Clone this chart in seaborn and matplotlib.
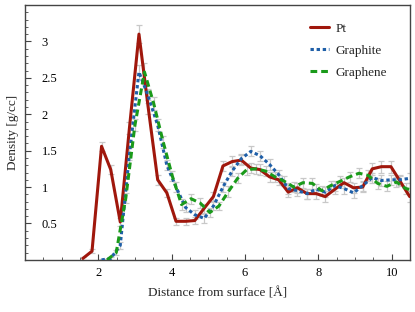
import numpy as np
import pandas as pd
import seaborn as sns
import matplotlib.pyplot as plt
from matplotlib.ticker import MultipleLocator

sns.set_style("ticks")
plt.rcParams["font.family"] = ["Liberation Serif", "DejaVu Serif"]

# density profiles, distance in Angstrom
pt_x = [1.58, 1.83, 2.09, 2.34, 2.60, 2.85, 3.11, 3.36, 3.62, 3.87, 4.12, 4.38,
        4.63, 4.89, 5.14, 5.40, 5.65, 5.90, 6.16, 6.41, 6.67, 6.92, 7.18, 7.43,
        7.69, 7.94, 8.19, 8.45, 8.70, 8.96, 9.21, 9.47, 9.72, 9.98, 10.23, 10.49]
pt_y = [0.02, 0.12, 1.56, 1.24, 0.52, 1.81, 3.10, 2.10, 1.10, 0.92, 0.53, 0.53,
        0.54, 0.71, 0.87, 1.29, 1.35, 1.37, 1.26, 1.24, 1.14, 1.10, 0.93, 0.99,
        0.91, 0.91, 0.87, 0.97, 1.06, 0.99, 1.00, 1.25, 1.28, 1.28, 1.08, 0.87]
pt_err = [0.02, 0.03, 0.06, 0.06, 0.05, 0.08, 0.12, 0.09, 0.07, 0.06, 0.05, 0.05,
          0.05, 0.06, 0.06, 0.07, 0.07, 0.07, 0.07, 0.07, 0.07, 0.07, 0.07, 0.07,
          0.07, 0.07, 0.07, 0.07, 0.07, 0.07, 0.07, 0.08, 0.08, 0.08, 0.07, 0.07]

gt_x = pt_x[2:]
gt_y = [0.00, 0.02, 0.20, 1.45, 2.58, 2.25, 1.85, 1.30, 1.00, 0.72, 0.62, 0.57,
        0.74, 1.00, 1.22, 1.39, 1.49, 1.43, 1.31, 1.17, 0.98, 0.95, 0.91, 0.97,
        0.93, 1.02, 0.98, 0.92, 1.02, 1.13, 1.09, 1.10, 1.10, 1.12]
gt_err = [0.01, 0.02, 0.05, 0.08, 0.10, 0.09, 0.08, 0.07, 0.07, 0.06, 0.06, 0.06,
          0.06, 0.07, 0.07, 0.07, 0.07, 0.07, 0.07, 0.07, 0.07, 0.07, 0.07, 0.07,
          0.07, 0.07, 0.07, 0.07, 0.07, 0.07, 0.07, 0.07, 0.07, 0.07]

gn_x = [2.24, 2.49, 2.75, 3.00, 3.26, 3.51, 3.77, 4.02, 4.27, 4.53, 4.78, 5.04,
        5.29, 5.55, 5.80, 6.05, 6.31, 6.56, 6.82, 7.07, 7.33, 7.58, 7.84, 8.09,
        8.34, 8.60, 8.85, 9.11, 9.36, 9.62, 9.87, 10.13, 10.38, 10.64]
gn_y = [0.00, 0.10, 0.85, 1.85, 2.58, 2.15, 1.62, 1.15, 0.76, 0.84, 0.78, 0.65,
        0.74, 0.94, 1.12, 1.24, 1.25, 1.22, 1.14, 1.08, 1.00, 1.06, 1.05, 0.95,
        1.02, 1.08, 1.14, 1.19, 1.16, 1.05, 1.01, 1.07, 0.98, 0.95]
gn_err = [0.01, 0.03, 0.07, 0.08, 0.12, 0.09, 0.08, 0.07, 0.07, 0.07, 0.07, 0.06,
          0.06, 0.07, 0.07, 0.07, 0.07, 0.07, 0.07, 0.07, 0.07, 0.07, 0.07, 0.07,
          0.07, 0.07, 0.07, 0.07, 0.07, 0.07, 0.07, 0.07, 0.07, 0.07]

series = [
    ("Pt", pt_x, pt_y, pt_err, "#a0170c", None),
    ("Graphite", gt_x, gt_y, gt_err, "#1f5fa8", (1.1, 0.9)),
    ("Graphene", gn_x, gn_y, gn_err, "#1a9a1a", (2.2, 1.3)),
]

fig, ax = plt.subplots(figsize=(4.15, 3.12), dpi=100)
fig.subplots_adjust(left=0.060, right=0.988, bottom=0.167, top=0.984)

for name, x, y, err, col, dash in series:
    ax.errorbar(x, y, yerr=err, fmt="none", ecolor="#c8c8c8", elinewidth=0.9,
                capsize=2.5, capthick=0.9, zorder=1)
for name, x, y, err, col, dash in series:
    df = pd.DataFrame({"x": x, "y": y})
    sns.lineplot(data=df, x="x", y="y", color=col, lw=2.2, label=name, ax=ax, zorder=3)
    if dash is not None:
        ax.lines[-1].set_dashes(dash)

ax.set_xlim(0, 10.5)
ax.set_ylim(0, 3.5)
ax.set_xticks([2, 4, 6, 8, 10])
ax.set_yticks([0.5, 1, 1.5, 2, 2.5, 3])
ax.set_yticklabels(["0.5", "1", "1.5", "2", "2.5", "3"])
ax.xaxis.set_minor_locator(MultipleLocator(0.5))
ax.yaxis.set_minor_locator(MultipleLocator(0.1))
ax.tick_params(which="both", direction="in", colors="#444444", labelcolor="black",
               labelsize=9)
ax.tick_params(which="major", length=4, width=0.8)
ax.tick_params(which="minor", length=2, width=0.6)
ax.tick_params(axis="y", pad=-12)
ax.tick_params(axis="x", pad=5)
for lab in ax.get_yticklabels():
    lab.set_horizontalalignment("left")
for sp in ax.spines.values():
    sp.set_color("#444444")
    sp.set_linewidth(1.0)

ax.set_xlabel("Distance from surface [Å]", fontsize=9.5, labelpad=6)
ax.set_ylabel("Density [g/cc]", fontsize=9.5, labelpad=1)

leg = ax.legend(loc="upper right", bbox_to_anchor=(0.953, 0.952), frameon=False,
                fontsize=9.5, handlelength=1.4, labelspacing=0.75,
                handletextpad=0.5, borderaxespad=0)

fig.savefig("out.png", dpi=100)
